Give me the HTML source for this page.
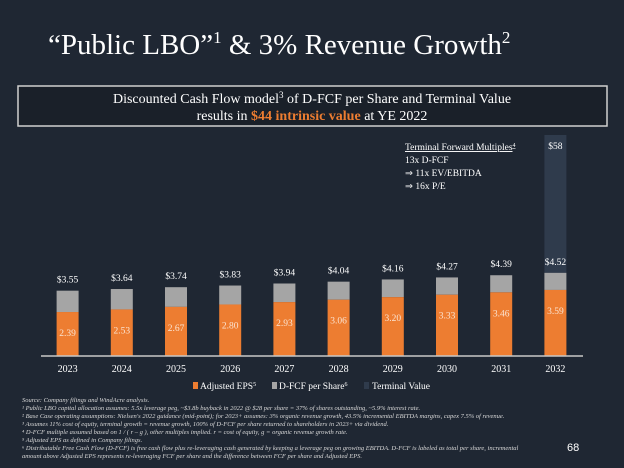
<!DOCTYPE html>
<html><head><meta charset="utf-8"><style>
body{margin:0;width:624px;height:468px;background:#1f2733;overflow:hidden;font-family:"Liberation Serif",serif;color:#fff}
svg{position:absolute;left:0;top:0}
</style></head><body>
<svg width="624" height="468">
<text x="48" y="54" font-size="29" fill="#fff" font-family="Liberation Serif,serif">“Public LBO”<tspan font-size="17" dy="-11">1</tspan><tspan dy="11"> &amp; 3% Revenue Growth</tspan><tspan font-size="17" dy="-11">2</tspan></text>
<rect x="18" y="86" width="589" height="40" fill="#1a2029" stroke="#d0d0d0" stroke-width="1.5"/>
<text x="312" y="103" font-size="14" text-anchor="middle" fill="#fff">Discounted Cash Flow model<tspan font-size="9" dy="-5">3</tspan><tspan dy="5"> of D-FCF per Share and Terminal Value</tspan></text>
<text x="312" y="120" font-size="14" text-anchor="middle" fill="#fff">results in <tspan fill="#ed7d31" font-weight="bold">$44 intrinsic value</tspan> at YE 2022</text>
<g font-size="9.5" fill="#fff">
<text x="405" y="150" text-decoration="underline">Terminal Forward Multiples<tspan font-size="6" dy="-3">4</tspan></text>
<text x="405" y="163">13x D-FCF</text>
<text x="405" y="176">⇒ 11x EV/EBITDA</text>
<text x="405" y="189">⇒ 16x P/E</text>
</g>
<g id="chart"></g>
<g font-size="9.5" fill="#fff">
<rect x="193" y="382" width="5" height="7" fill="#ed7d31"/>
<text x="200" y="389">Adjusted EPS<tspan font-size="6" dy="-3">5</tspan></text>
<rect x="272" y="382" width="5" height="7" fill="#a5a5a5"/>
<text x="279" y="389">D-FCF per Share<tspan font-size="6" dy="-3">6</tspan></text>
<rect x="364" y="382" width="5" height="7" fill="#2f3b4c"/>
<text x="372" y="389">Terminal Value</text>
</g>
<g font-size="6.5" font-style="italic" fill="#d8d8d8">
<text x="22" y="402">Source: Company filings and WindAcre analysis.</text>
<text x="22" y="410">¹ Public LBO capital allocation assumes: 5.5x leverage peg, ~$3.8b buyback in 2022 @ $28 per share = 37% of shares outstanding, ~5.9% interest rate.</text>
<text x="22" y="418">² Base Case operating assumptions: Nielsen's 2022 guidance (mid-point); for 2023+ assumes: 3% organic revenue growth, 43.5% incremental EBITDA margins, capex 7.5% of revenue.</text>
<text x="22" y="426">³ Assumes 11% cost of equity, terminal growth = revenue growth, 100% of D-FCF per share returned to shareholders in 2023+ via dividend.</text>
<text x="22" y="434">⁴ D-FCF multiple assumed based on 1 / ( r – g ), other multiples implied.  r = cost of equity, g = organic revenue growth rate.</text>
<text x="22" y="442">⁵ Adjusted EPS as defined in Company filings.</text>
<text x="22" y="450">⁶ Distributable Free Cash Flow (D-FCF) is free cash flow plus re-leveraging cash generated by keeping a leverage peg on growing EBITDA.  D-FCF is labeled as total per share, incremental</text>
<text x="22" y="458">amount above Adjusted EPS represents re-leveraging FCF per share and the difference between FCF per share and Adjusted EPS.</text>
</g>
<text x="567" y="451" font-size="11" fill="#fff" font-family="Liberation Sans,sans-serif">68</text>
</svg>
<script>
const years=["2023","2024","2025","2026","2027","2028","2029","2030","2031","2032"];
const eps=[2.39,2.53,2.67,2.80,2.93,3.06,3.20,3.33,3.46,3.59];
const dfcf=[3.55,3.64,3.74,3.83,3.94,4.04,4.16,4.27,4.39,4.52];
const terminal=[0,0,0,0,0,0,0,0,0,58];
const NS="http://www.w3.org/2000/svg";
const g=document.getElementById('chart');
const base=356,ppu=18.4,x0=67.6,step=54.2,bw=22,termTop=135;
const y=v=>base-v*ppu;
const xc=i=>x0+i*step;
function mk(t,a){const e=document.createElementNS(NS,t);for(const k in a)e.setAttribute(k,a[k]);g.appendChild(e);return e;}
years.forEach((yr,i)=>{
  const cx=xc(i);
  if(terminal[i]>0){
    const top=Math.max(termTop,y(dfcf[i]+terminal[i]));
    const r=mk('rect',{x:cx-bw/2,y:top,width:bw,height:y(dfcf[i])-top,fill:'#2f3b4c'});
    
    
    const t=mk('text',{x:cx,y:termTop+14,'font-size':9.5,'text-anchor':'middle',fill:'#fff'});t.textContent='$'+terminal[i];
    
    
  }
  const r1=mk('rect',{x:cx-bw/2,y:y(dfcf[i]),width:bw,height:(dfcf[i]-eps[i])*ppu,fill:'#a5a5a5'});
  
  
  const r2=mk('rect',{x:cx-bw/2,y:y(eps[i]),width:bw,height:eps[i]*ppu,fill:'#ed7d31'});
  
  
  const t1=mk('text',{x:cx,y:y(dfcf[i])-8,'font-size':9.5,'text-anchor':'middle',fill:'#fff'});t1.textContent='$'+dfcf[i].toFixed(2);
  
  
  const t2=mk('text',{x:cx,y:y(eps[i])+24,'font-size':9.5,'text-anchor':'middle',fill:'#fbe3d0'});t2.textContent=eps[i].toFixed(2);
  
  
  const t3=mk('text',{x:cx,y:372,'font-size':10,'text-anchor':'middle',fill:'#fff'});t3.textContent=yr;
  
  
});
const ax=mk('line',{x1:41,x2:583,y1:base,y2:base,stroke:'#c8c8c8','stroke-width':1.5});


</script>
</body></html>
